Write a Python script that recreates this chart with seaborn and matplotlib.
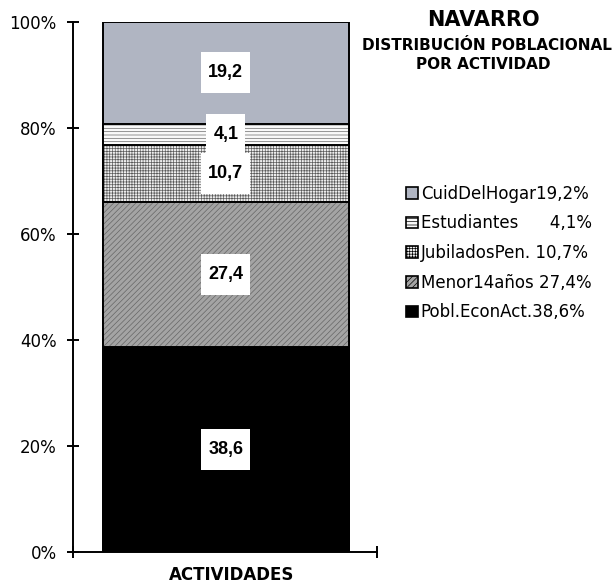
import numpy as np
import pandas as pd
import seaborn as sns
import matplotlib.pyplot as plt
from matplotlib.patches import Patch
from matplotlib.path import Path

# datos: distribucion poblacional por actividad (Navarro)
grupos = ['Pobl.EconAct.', 'Menor14años', 'JubiladosPen.', 'Estudiantes', 'CuidDelHogar']
valores = [38.6, 27.4, 10.7, 4.1, 19.2]
etiquetas_leyenda = ['Pobl.EconAct.38,6%', 'Menor14años 27,4%', 'JubiladosPen. 10,7%',
                     'Estudiantes      4,1%', 'CuidDelHogar19,2%']
etiquetas_barra = ['38,6', '27,4', '10,7', '4,1', '19,2']
yticks = [0, 20, 40, 60, 80, 100]
yticklabels = ['0%', '20%', '40%', '60%', '80%', '100%']

colores = ['#000000', '#a4a4a4', '#eeeeee', '#fafafa', '#b0b5c2']
tramas = [None, '//////', '++++++', '-----', None]
color_trama = [None, '#666666', '#5a5a5a', '#6a6a6a', None]

sns.set_style('ticks')
plt.rcParams['font.family'] = ['DejaVu Sans']
plt.rcParams['hatch.linewidth'] = 0.5
for k in ['text.color', 'axes.labelcolor', 'xtick.color', 'ytick.color', 'axes.edgecolor']:
    plt.rcParams[k] = 'black'


def caja(x0, y0, width, height, mutation_size):
    # caja blanca con mas relleno vertical que horizontal
    px = 0.38 * mutation_size
    py = 0.66 * mutation_size
    x1, y1 = x0 + width + px, y0 + height + py
    x0, y0 = x0 - px, y0 - py
    return Path([(x0, y0), (x1, y0), (x1, y1), (x0, y1), (x0, y0)], closed=True)


df = pd.DataFrame({'grupo': grupos, 'valor': valores})
df['acum'] = df['valor'].cumsum()
df['centro'] = df['acum'] - df['valor'] / 2

fig = plt.figure(figsize=(6.14, 5.83), dpi=100)
ax = fig.add_axes([0.1184, 0.0532, 0.4956, 0.9096])

# barras apiladas: de la acumulada mayor a la menor
for i in range(len(df) - 1, -1, -1):
    sns.barplot(x=['ACTIVIDADES'], y=[df['acum'].iloc[i]], color=colores[i],
                width=0.8, ax=ax, saturation=1)
    p = ax.patches[-1]
    p.set_facecolor(colores[i])
    p.set_edgecolor('black')
    p.set_linewidth(1.4)
    if tramas[i]:
        p.set_hatch(tramas[i])
        p._hatch_color = plt.matplotlib.colors.to_rgba(color_trama[i])

for i, row in df.iterrows():
    ax.text(0, row['centro'], etiquetas_barra[i], ha='center', va='center',
            fontsize=13, fontweight='bold', family='Liberation Sans',
            bbox=dict(boxstyle=caja, facecolor='white', edgecolor='none'))

ax.set_ylim(0, 100)
ax.set_xlim(-0.4974, 0.4909)
ax.set_yticks(yticks)
ax.set_yticklabels(yticklabels, fontsize=12)
ax.set_xticks([-0.4974, 0.4909])
ax.set_xticklabels(['', ''])
ax.tick_params(axis='both', direction='inout', length=9, width=1.4, pad=7)
sns.despine(ax=ax)
for s in ['left', 'bottom']:
    ax.spines[s].set_linewidth(1.4)
ax.set_ylabel('')
ax.set_xlabel('ACTIVIDADES', fontsize=12, fontweight='bold')
ax.xaxis.set_label_coords(0.523, -0.026)

fig.text(0.7875, 0.9657, 'NAVARRO', ha='center', va='center', fontsize=15, fontweight='bold')
fig.text(0.793, 0.9228, 'DISTRIBUCIÓN POBLACIONAL', ha='center', va='center', fontsize=11, fontweight='bold')
fig.text(0.7875, 0.890, 'POR ACTIVIDAD', ha='center', va='center', fontsize=11, fontweight='bold')

handles = [Patch(facecolor=colores[i], edgecolor='black', hatch=tramas[i], linewidth=1.2,
                 label=etiquetas_leyenda[i]) for i in range(len(df) - 1, -1, -1)]
fig.legend(handles=handles, loc='upper left', bbox_to_anchor=(0.661, 0.683),
           frameon=False, fontsize=12, handlelength=0.75, handleheight=0.7,
           handletextpad=0.15, labelspacing=0.70, borderpad=0, borderaxespad=0)

fig.savefig('out.png', dpi=100)
